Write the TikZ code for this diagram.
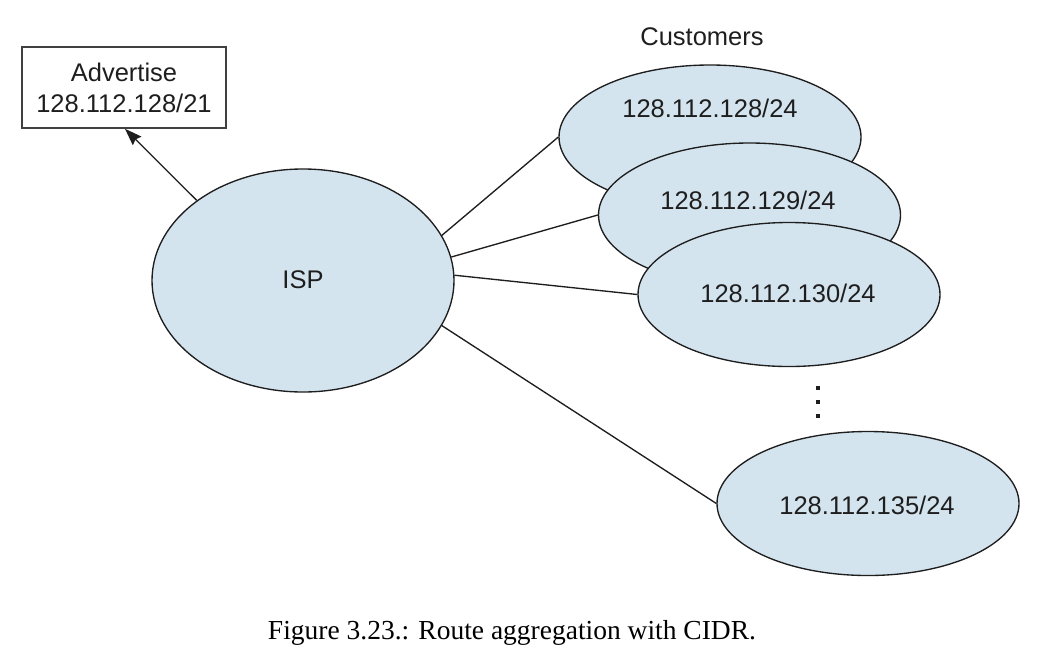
\documentclass[tikz,border=0pt]{standalone}
\usepackage{fontspec}
\setmainfont{Liberation Sans}
\newfontfamily\captionfont{Liberation Serif}
\usetikzlibrary{shapes.geometric,arrows.meta}
\definecolor{netfill}{RGB}{212,228,239}
\definecolor{inkgray}{RGB}{30,30,30}
\begin{document}
\begin{tikzpicture}[x=1pt,y=-1pt,
  net/.style={ellipse,draw=inkgray,line width=1.35pt,fill=netfill,
    minimum width=302pt,minimum height=144pt,inner sep=0pt},
  lbl/.style={text=inkgray,font=\fontsize{25.5}{30}\selectfont,inner sep=0pt},
  link/.style={draw=inkgray,line width=1.35pt},
  adbox/.style={draw=inkgray!85,line width=1.6pt,fill=white,
    minimum width=204pt,minimum height=81pt,inner sep=0pt,align=center,
    text=inkgray,font=\fontsize{25.5}{31}\selectfont}]
\useasboundingbox (0,0) rectangle (1040,670);

% advertised aggregate
\node[adbox] (adv) at (124,87.5) {Advertise\\128.112.128/21};

% provider
\node[net,minimum height=223pt] (isp) at (303,280.5) {};
\node[lbl] (isptxt) at (303,280) {ISP};

% customer networks, stacked
\node[lbl] (cust) at (702,37) {Customers};
\node[net] (c1) at (710,137) {};
\node[lbl] (t1) at (710,108) {128.112.128/24};
\node[net] (c2) at (749.5,215) {};
\node[lbl] (t2) at (748,200) {128.112.129/24};
\node[net] (c3) at (789,294.5) {};
\node[lbl] (t3) at (788,293) {128.112.130/24};
\node[net] (c4) at (868,503.5) {};
\node[lbl] (t4) at (867,505) {128.112.135/24};

% ellipsis between customers
\foreach \yy in {388,402,416}
  \fill[inkgray] (816.3,\yy-1.7) rectangle ++(3.4,3.4);

% connectors
\draw[link] (isp.18) -- (c1.west);
\draw[link] (isp.9) -- (c2.west);
\draw[link] (isp.2) -- (c3.west);
\draw[link] (isp.-18.5) -- (c4.west);
\draw[link,-{Stealth[length=17pt,width=12pt,inset=2pt]}] (isp.143.7) -- ([xshift=1pt]adv.south);

% caption
\node[font=\captionfont\fontsize{27.5}{32}\selectfont,inner sep=0pt] (cap) at (512,633)
  {Figure 3.23.: Route aggregation with CIDR.};
\end{tikzpicture}
\end{document}
